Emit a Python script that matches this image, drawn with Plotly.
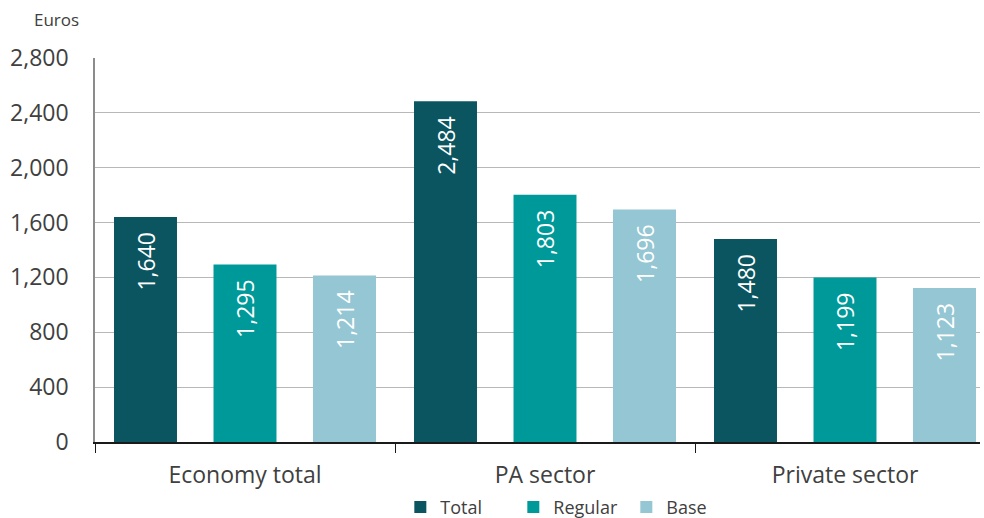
import plotly.graph_objects as go

categories = ["Economy total", "PA sector", "Private sector"]
series_names = ["Total", "Regular", "Base"]
total_values = [1640, 2484, 1480]
regular_values = [1295, 1803, 1199]
base_values = [1214, 1696, 1123]
colors = ["#0b5561", "#009999", "#94c6d3"]
y_ticks = [0, 400, 800, 1200, 1600, 2000, 2400, 2800]

FONT = "Open Sans"
TXT = "#404040"

fig = go.Figure()
for name, vals, col in zip(series_names, [total_values, regular_values, base_values], colors):
    fig.add_trace(go.Bar(
        x=categories, y=vals, name=name,
        marker=dict(color=col, line=dict(width=0)),
        text=[f"{v:,}" + "\u00a0\u00a0" for v in vals],
        textposition="inside", insidetextanchor="end", textangle=-90,
        textfont=dict(color="white", size=23, family=FONT),
        constraintext="none",
    ))

fig.update_layout(
    width=984, height=518,
    margin=dict(l=95, r=4, t=58, b=76, autoexpand=False),
    paper_bgcolor="white", plot_bgcolor="white",
    barmode="group", bargap=0.005, bargroupgap=0.367,
    font=dict(family=FONT, color=TXT),
    showlegend=True,
    legend=dict(orientation="h", x=0.345, xanchor="left", y=-0.218, yanchor="bottom",
                font=dict(size=18, color=TXT), traceorder="normal", itemwidth=30,
                entrywidth=68, entrywidthmode="pixels"),
    xaxis=dict(range=[-0.5, 2.45], showline=True, linecolor="#1a1a1a", linewidth=1.5,
               ticks="outside", tickson="boundaries", ticklen=9, tickcolor="#1a1a1a",
               tickfont=dict(size=23, color=TXT), showgrid=False, ticklabelstandoff=12,
               automargin=False),
    yaxis=dict(range=[0, 2800], tickvals=y_ticks, ticktext=[f"{v:,}" for v in y_ticks],
               showgrid=True, gridcolor="#b8b8b8", gridwidth=1.2,
               showline=True, linecolor="#8c8c8c", linewidth=1.5,
               tickfont=dict(size=23, color=TXT), ticks="", zeroline=False,
               ticklabelstandoff=20, automargin=False),
    annotations=[dict(text="Euros", xref="paper", yref="paper", x=-0.044, y=1.099,
                      xanchor="center", yanchor="middle", showarrow=False,
                      font=dict(size=17, color=TXT))],
)

fig.write_html("out.html", config={"displayModeBar": False},
               post_script="document.body.style.margin='0';document.body.style.overflow='hidden';")
